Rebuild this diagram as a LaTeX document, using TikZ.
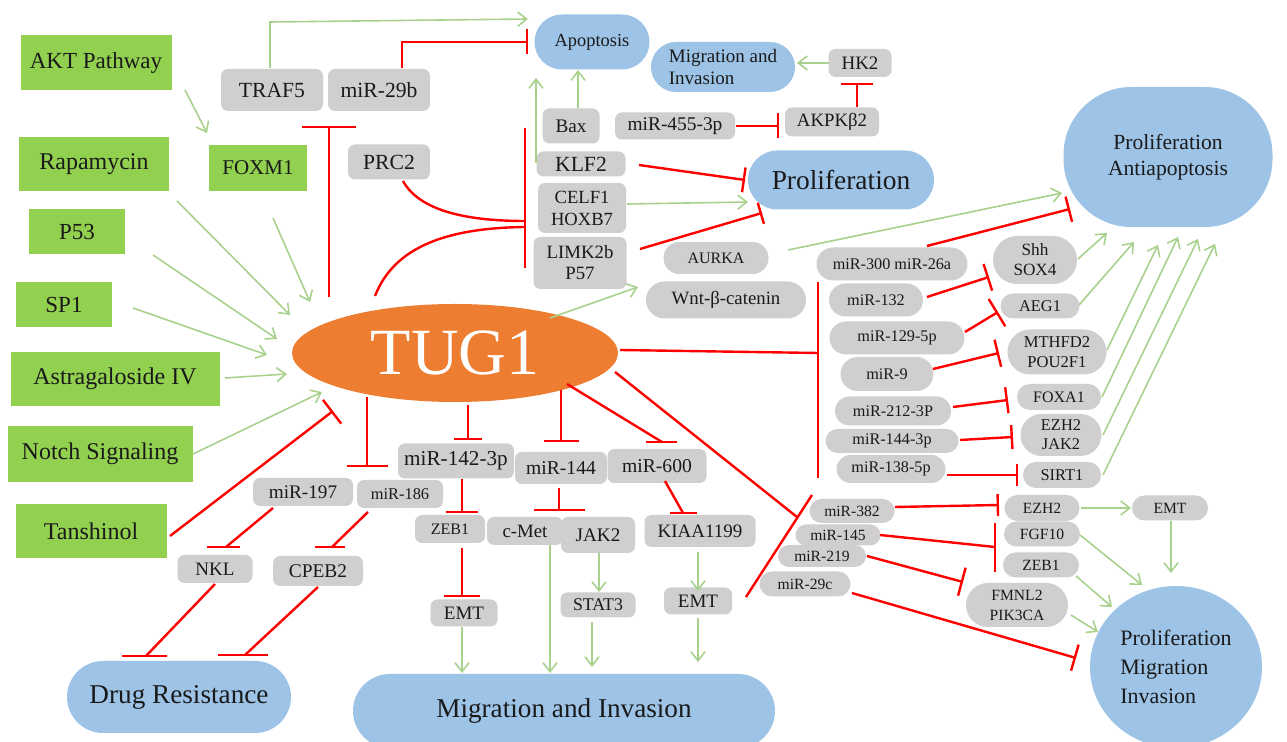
\documentclass[tikz,border=0pt]{standalone}
\usepackage{fontspec}
\setmainfont{Liberation Serif}
\usetikzlibrary{arrows.meta,shapes.misc,shapes.geometric}
\definecolor{GrnF}{HTML}{92D050}
\definecolor{GrnL}{HTML}{A9D18E}
\definecolor{GryF}{HTML}{D0CECE}
\definecolor{BluF}{HTML}{9DC3E6}
\definecolor{OrgF}{HTML}{ED7D31}
\definecolor{RedL}{HTML}{FF0000}
\definecolor{TxtC}{HTML}{1A1A1A}
\begin{document}
\begin{tikzpicture}[x=0.5pt,y=-0.5pt,
  fs/.style={font=\fontsize{#1}{#1}\selectfont},
  fs2/.style 2 args={font=\fontsize{#1}{#2}\selectfont, align=center},
  sz/.style 2 args={minimum width={#1*0.5pt}, minimum height={#2*0.5pt}},
  gbox/.style={rectangle, fill=GrnF, inner sep=0pt, text=TxtC},
  rbox/.style={rectangle, rounded corners=3.5pt, fill=GryF, inner sep=0pt, text=TxtC},
  pill/.style={rounded rectangle, fill=GryF, inner sep=0pt, text=TxtC},
  bpill/.style={rounded rectangle, fill=BluF, inner sep=0pt, text=TxtC},
  garr/.style={draw=GrnL, line width=0.8pt, -{Straight Barb[length=4.5pt,width=7pt]}},
  rl/.style={draw=RedL, line width=1.2pt},
  rbar/.style={rl, -{Bar[width=#1]}},
]
\useasboundingbox (0,0) rectangle (1287,742);

% ---------- blue outcome nodes ----------
\node[bpill,sz={115}{55},fs=9.2] (Apop) at (592,42) {Apoptosis};
\node[bpill,sz={144}{50},font=\fontsize{9.5}{11}\selectfont,align=left] (MigTop) at (723,67) {Migration and\\Invasion};
\node[bpill,sz={186}{59},fs=13.7] (Prolif) at (841,180) {Proliferation};
\node[rectangle,rounded corners=34pt,fill=BluF,inner sep=0pt,text=TxtC,sz={209}{140},fs2={10.8}{13}] (PA) at (1168,157) {Proliferation\\Antiapoptosis};
\node[bpill,sz={224}{72},fs=13.6] (Drug) at (179,697) {Drug Resistance};
\node[bpill,sz={422}{74},fs=13.6] (MIB) at (564,711) {Migration and Invasion};
\node[ellipse,fill=BluF,inner sep=0pt,text=TxtC,sz={172}{162},font=\fontsize{11}{14.5}\selectfont,align=left] (PMI) at (1176,667) {Proliferation\\Migration\\Invasion};

% ---------- TUG1 ----------
\node[ellipse,fill=OrgF,inner sep=0pt,sz={326}{98},text=white,fs=33] (TUG1) at (455,353) {TUG1};

% ---------- green regulators ----------
\node[gbox,sz={151}{55},fs=11.5] (AKT) at (96,63) {AKT Pathway};
\node[gbox,sz={150}{54},fs=12] (Rapa) at (94,164) {Rapamycin};
\node[gbox,sz={96}{45},fs=11.5] (P53) at (77,232) {P53};
\node[gbox,sz={96}{45},fs=11.5] (SP1) at (64,305) {SP1};
\node[gbox,sz={209}{54},fs=12] (Astra) at (115,379) {Astragaloside IV};
\node[gbox,sz={185}{56},fs=12] (Notch) at (100,454) {Notch Signaling};
\node[gbox,sz={151}{54},fs=12] (Tansh) at (91,531) {Tanshinol};
\node[gbox,sz={98}{46},fs=10.5] (FOXM1) at (258,168) {FOXM1};

% ---------- grey boxes, upper part ----------
\node[rbox,sz={102}{42},fs=10.8] (TRAF5) at (272,90) {TRAF5};
\node[rbox,sz={102}{42},fs=10.8] (miR29b) at (379,90) {miR-29b};
\node[rbox,sz={82}{35},fs=10.8] (PRC2) at (389,162) {PRC2};
\node[rbox,sz={57}{35},fs=9.6] (Bax) at (571,126) {Bax};
\node[rbox,sz={120}{27},fs=9.7] (miR455) at (675,126) {miR-455-3p};
\node[rbox,sz={94}{29},fs=9.4] (AKPK) at (832,122) {AKPKβ2};
\node[rbox,sz={63}{28},fs=9.5] (HK2) at (860,63) {HK2};
\node[rbox,sz={89}{25},fs=10.8] (KLF2) at (581,164) {KLF2};
\node[rbox,sz={88}{50},fs2={9.3}{11}] (CELF1) at (582,208) {CELF1\\HOXB7};
\node[rbox,sz={93}{52},fs2={9.4}{10.5}] (LIMK) at (580,263) {LIMK2b\\P57};
\node[pill,sz={105}{32},fs=8] (AURKA) at (716,258) {AURKA};
\node[pill,sz={160}{37},fs=9.4] (Wnt) at (726,300) {Wnt-β-catenin};

% ---------- right column ----------
\node[pill,sz={151}{33},fs=8.1] (miR300) at (892,264) {miR-300 miR-26a};
\node[pill,sz={94}{33},fs=8.1] (miR132) at (876,300) {miR-132};
\node[pill,sz={135}{33},fs=8.1] (miR129) at (897,338) {miR-129-5p};
\node[pill,sz={93}{34},fs=8.1] (miR9) at (887,374) {miR-9};
\node[pill,sz={116}{29},fs=8.1] (miR212) at (893,411) {miR-212-3P};
\node[pill,sz={133}{24},fs=8.1] (miR1443p) at (892,441) {miR-144-3p};
\node[pill,sz={109}{28},fs=8.1] (miR138) at (891,469) {miR-138-5p};
\node[pill,sz={84}{48},fs2={8.6}{10}] (Shh) at (1035,260) {Shh\\SOX4};
\node[pill,sz={79}{25},fs=8.2] (AEG1) at (1040,306) {AEG1};
\node[pill,sz={99}{45},fs2={8.3}{10}] (MTHFD2) at (1057,352) {MTHFD2\\POU2F1};
\node[pill,sz={84}{26},fs=8] (FOXA1) at (1059,397) {FOXA1};
\node[pill,sz={81}{42},fs2={8.2}{9.5}] (EZJAK) at (1061,435) {EZH2\\JAK2};
\node[pill,sz={78}{26},fs=8.2] (SIRT1) at (1062,475) {SIRT1};

% ---------- lower right ----------
\node[pill,sz={85}{24},fs=7.8] (miR382) at (852,511) {miR-382};
\node[pill,sz={85}{21},fs=7.8] (miR145) at (838,535) {miR-145};
\node[pill,sz={88}{22},fs=7.8] (miR219) at (822,556) {miR-219};
\node[pill,sz={91}{25},fs=7.8] (miR29c) at (805,584) {miR-29c};
\node[pill,sz={75}{26},fs=7.8] (EZH2R) at (1042,508) {EZH2};
\node[pill,sz={76}{25},fs=7.8] (EMTR) at (1170,508) {EMT};
\node[pill,sz={76}{25},fs=7.8] (FGF10) at (1042,534) {FGF10};
\node[pill,sz={76}{25},fs=7.8] (ZEB1R) at (1041,565) {ZEB1};
\node[pill,sz={102}{44},fs2={7.8}{10}] (FMNL2) at (1017,605) {FMNL2\\PIK3CA};

% ---------- lower middle / left ----------
\node[rbox,sz={116}{35},fs=10.6] (miR142) at (456,461) {miR-142-3p};
\node[rbox,sz={92}{32},fs=9.8] (miR144) at (561,468) {miR-144};
\node[rbox,sz={99}{34},fs=9.8] (miR600) at (657,466) {miR-600};
\node[rbox,sz={70}{28},fs=8] (ZEB1L) at (450,529) {ZEB1};
\node[rbox,sz={76}{28},fs=9.4] (cMet) at (525,531) {c-Met};
\node[rbox,sz={74}{36},fs=9.6] (JAK2L) at (598,535) {JAK2};
\node[rbox,sz={111}{32},fs=9.5] (KIAA) at (700,531) {KIAA1199};
\node[rbox,sz={67}{27},fs=9.5] (EMT1) at (464,613) {EMT};
\node[rbox,sz={75}{25},fs=8.9] (STAT3) at (598,605) {STAT3};
\node[rbox,sz={68}{27},fs=9.5] (EMT2) at (698,601) {EMT};
\node[rbox,sz={100}{28},fs=9.6] (miR197) at (303,492) {miR-197};
\node[rbox,sz={86}{28},fs=8.2] (miR186) at (400,494) {miR-186};
\node[rbox,sz={75}{28},fs=9.5] (NKL) at (215,569) {NKL};
\node[rbox,sz={90}{30},fs=9.7] (CPEB2) at (318,571) {CPEB2};

% ---------- bracket points ----------
\coordinate (brA1) at (525,128); \coordinate (brA2) at (525,268);
\coordinate (brB1) at (818,282); \coordinate (brB2) at (818,478);
\coordinate (brC1) at (746,597); \coordinate (brC2) at (812,495);

% ---------- green activation arrows ----------
\draw[garr] (185,90) -- (207,133);
\draw[garr] (273,218) -- (310,302);
\draw[garr] (177,201) -- (290,315);
\draw[garr] (153,255) -- (277,339);
\draw[garr] (133,308) -- (267,355);
\draw[garr] (225,378) -- (287,374);
\draw[garr] (193,454) -- (322,392);
\draw[garr] (270,68) -- (270,22) -- (528,19);
\draw[garr] (578,108) -- (578,70);
\draw[garr] (536,163) -- (536,78);
\draw[garr] (829,63) -- (797,63);
\draw[garr] (627,204) -- (748,202);
\draw[garr] (550,318) -- (638,287);
\draw[garr] (788,250) -- (1062,193);
\draw[garr] (1078,259) -- (1107,233);
\draw[garr] (1079,305) -- (1134,242);
\draw[garr] (1107,350) -- (1158,245);
\draw[garr] (1102,397) -- (1178,237);
\draw[garr] (1103,435) -- (1198,239);
\draw[garr] (1103,475) -- (1215,244);
\draw[garr] (1081,508) -- (1131,508);
\draw[garr] (1171,521) -- (1171,573);
\draw[garr] (1080,535) -- (1142,585);
\draw[garr] (1076,576) -- (1112,607);
\draw[garr] (1071,615) -- (1098,632);
\draw[garr] (462,627) -- (462,673);
\draw[garr] (550,545) -- (550,673);
\draw[garr] (599,553) -- (599,592);
\draw[garr] (592,622) -- (592,667);
\draw[garr] (698,552) -- (698,591);
\draw[garr] (698,618) -- (698,662);

% ---------- red inhibition lines ----------
\draw[rbar=12.5pt] (402,68) -- (402,42) -- (528,42);
\draw[rbar=27pt] (329,297) -- (329,126);
\draw[rl] (375,296) .. controls (395,245) and (450,228) .. (525,227);
\draw[rl] (403,181) .. controls (420,212) and (470,221) .. (525,221);
\draw[rl] (brA1) -- (brA2);
\draw[rbar=12.5pt] (639,165) -- (745,180);
\draw[rbar=11pt] (640,249) -- (762,213);
\draw[rbar=12.5pt] (736,126) -- (779,126);
\draw[rbar=16pt] (857,107) -- (857,83);
\draw[rbar=13pt] (927,246) -- (1070,209);
\draw[rl] (620,350) -- (818,353);
\draw[rl] (brB1) -- (brB2);
\draw[rbar=14pt] (927,297) -- (989,277);
\draw[rbar=16pt] (965,332) -- (998,312);
\draw[rbar=14pt] (933,369) -- (999,353);
\draw[rbar=13pt] (953,407) -- (1008,400);
\draw[rbar=12pt] (960,440) -- (1013,437);
\draw[rbar=11pt] (947,475) -- (1018,475);
\draw[rl] (615,372) -- (797,517);
\draw[rl] (brC1) -- (brC2);
\draw[rbar=11pt] (895,507) -- (999,505);
\draw[rl] (880,535) -- (995,547);
\draw[rl] (995,523) -- (995,572);
\draw[rbar=14.5pt] (867,556) -- (963,582);
\draw[rbar=13.5pt] (852,593) -- (1076,658);
\draw[rl] (567,384) -- (662,442);
\draw[rl] (646,442) -- (677,442);
\draw[rbar=17.5pt] (561,390) -- (561,442);
\draw[rbar=14pt] (468,405) -- (468,440);
\draw[rbar=20.5pt] (367,397) -- (367,467);
\draw[rbar=15pt] (170,536) -- (333,411);
\draw[rl] (273,508) -- (226,547);
\draw[rl] (207,547) -- (240,547);
\draw[rl] (368,512) -- (332,547);
\draw[rl] (315,547) -- (345,547);
\draw[rl] (215,584) -- (146,656);
\draw[rl] (122,656) -- (167,656);
\draw[rl] (318,587) -- (245,655);
\draw[rl] (218,655) -- (268,655);
\draw[rbar=16pt] (462,479) -- (462,513);
\draw[rbar=18pt] (462,548) -- (462,597);
\draw[rbar=25.5pt] (559,488) -- (559,511);
\draw[rl] (665,481) -- (683,513);
\draw[rl] (670,513) -- (697,513);
\end{tikzpicture}
\end{document}
